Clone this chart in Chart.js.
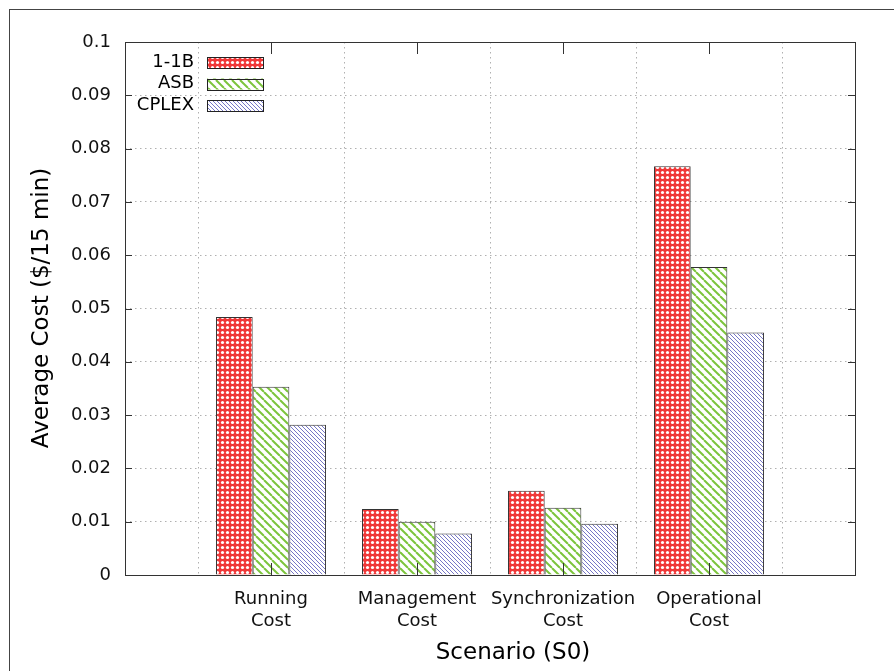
<!DOCTYPE html>
<html>
<head>
<meta charset="utf-8">
<script src="https://cdn.jsdelivr.net/npm/chart.js@4.4.1/dist/chart.umd.min.js"></script>
<style>
  html, body { margin: 0; padding: 0; background: #fff; }
  #wrap { position: relative; width: 894px; height: 671px; overflow: hidden; }
  #frame { position: absolute; left: 9px; top: 9px; width: 900px; height: 700px;
           border-top: 1.5px solid #444; border-left: 1.5px solid #444; pointer-events: none; }
  canvas { position: absolute; left: 0; top: 0; }
</style>
</head>
<body>
<div id="wrap">
  <canvas id="c" width="894" height="671"></canvas>
  <div id="frame"></div>
</div>
<script>
// Cost components per scenario S0
const categories = [['Running', 'Cost'], ['Management', 'Cost'], ['Synchronization', 'Cost'], ['Operational', 'Cost']];
const seriesNames = ['1-1B', 'ASB', 'CPLEX'];
const cost11B  = [0.0484, 0.0124, 0.0158, 0.0767];
const costASB  = [0.0353, 0.0100, 0.0126, 0.0578];
const costCPLEX = [0.0282, 0.0078, 0.0096, 0.0455];
const yTickLabels = ['0', '0.01', '0.02', '0.03', '0.04', '0.05', '0.06', '0.07', '0.08', '0.09', '0.1'];
const xTitle = 'Scenario (S0)';
const yTitle = 'Average Cost ($/15 min)';

const FONT = "'DejaVu Sans', sans-serif";

// Fill patterns
function makeTile(size, draw) {
  const t = document.createElement('canvas');
  t.width = size; t.height = size;
  const g = t.getContext('2d');
  draw(g, size);
  return document.getElementById('c').getContext('2d').createPattern(t, 'repeat');
}
const redDots = makeTile(5, (g, s) => {
  g.fillStyle = '#f03838'; g.fillRect(0, 0, s, s);
  g.fillStyle = '#ffffff';
  g.beginPath(); g.arc(2.5, 2.5, 1.6, 0, Math.PI * 2); g.fill();
});
function diagTile(size, color, width) {
  return makeTile(size, (g, s) => {
    g.fillStyle = '#ffffff'; g.fillRect(0, 0, s, s);
    g.strokeStyle = color; g.lineWidth = width;
    for (const x0 of [-s, 0, s]) {
      g.beginPath(); g.moveTo(x0, 0); g.lineTo(x0 + s, s); g.stroke();
    }
  });
}
const greenHatch = diagTile(8, '#7cc43c', 2);
const blueHatch = diagTile(4, '#7676c6', 1);

const pad = v => [null, ...v, null];

// inward tick marks, full frame, axis titles and the key box
const decor = {
  id: 'decor',
  afterDatasetsDraw(chart) {
    const { ctx, chartArea: a, scales: { x, y } } = chart;
    ctx.save();
    ctx.strokeStyle = '#333'; ctx.lineWidth = 1;
    y.ticks.forEach((t, i) => {
      const py = Math.round(y.getPixelForTick(i)) + 0.5;
      ctx.beginPath();
      ctx.moveTo(a.left, py); ctx.lineTo(a.left + 7, py);
      ctx.moveTo(a.right, py); ctx.lineTo(a.right - 7, py);
      ctx.stroke();
    });
    for (let i = 1; i <= categories.length; i++) {
      const px = Math.round(x.getPixelForTick(i)) + 0.5;
      ctx.beginPath();
      ctx.moveTo(px, a.top); ctx.lineTo(px, a.top + 12);
      ctx.moveTo(px, a.bottom); ctx.lineTo(px, a.bottom - 12);
      ctx.stroke();
    }
    ctx.strokeRect(Math.round(a.left) + 0.5, Math.round(a.top) + 0.5,
                   Math.round(a.right - a.left), Math.round(a.bottom - a.top));

    // axis titles
    ctx.fillStyle = '#000';
    ctx.font = '23px ' + FONT;
    ctx.textAlign = 'center'; ctx.textBaseline = 'middle';
    ctx.fillText(xTitle, 513, 653);
    ctx.save();
    ctx.translate(42, 308);
    ctx.rotate(-Math.PI / 2);
    ctx.fillText(yTitle, 0, 0);
    ctx.restore();

    // key
    ctx.font = '18px ' + FONT;
    ctx.textAlign = 'right'; ctx.textBaseline = 'middle';
    chart.data.datasets.forEach((ds, i) => {
      const cy = 62 + i * 21.5;
      ctx.fillStyle = '#000';
      ctx.fillText(ds.label, 194, cy);
      ctx.fillStyle = ds.backgroundColor;
      ctx.fillRect(207, cy - 5, 56, 11);
      ctx.strokeStyle = '#222';
      ctx.strokeRect(207.5, Math.round(cy - 5) + 0.5, 56, 11);
    });
    ctx.restore();
  }
};

new Chart(document.getElementById('c'), {
  type: 'bar',
  data: {
    labels: ['', ...categories, ''],
    datasets: [
      { label: seriesNames[0], data: pad(cost11B), backgroundColor: redDots },
      { label: seriesNames[1], data: pad(costASB), backgroundColor: greenHatch },
      { label: seriesNames[2], data: pad(costCPLEX), backgroundColor: blueHatch }
    ]
  },
  options: {
    responsive: false,
    animation: false,
    devicePixelRatio: 1,
    layout: { padding: { left: 0, right: 39, top: 42, bottom: 0 } },
    datasets: {
      bar: { categoryPercentage: 0.753, barPercentage: 1.0, borderWidth: 1, borderColor: '#333', skipNull: false }
    },
    plugins: { legend: { display: false }, tooltip: { enabled: false } },
    scales: {
      x: {
        offset: false,
        grid: { color: '#b0b0b0', drawTicks: false, tickLength: 0 },
        border: { display: false, dash: [1.5, 3.5] },
        ticks: { color: '#111', font: { family: FONT, size: 18 }, padding: 14, maxRotation: 0, autoSkip: false },
        afterFit(s) { s.height = 96; }
      },
      y: {
        min: 0, max: 0.1,
        grid: { color: '#b0b0b0', drawTicks: false, tickLength: 0 },
        border: { display: false, dash: [1.5, 3.5] },
        ticks: { stepSize: 0.01, color: '#111', font: { family: FONT, size: 18 }, padding: 14,
                 callback: (v, i) => yTickLabels[i] },
        afterFit(s) { s.width = 125; }
      }
    }
  },
  plugins: [decor]
});
</script>
</body>
</html>
